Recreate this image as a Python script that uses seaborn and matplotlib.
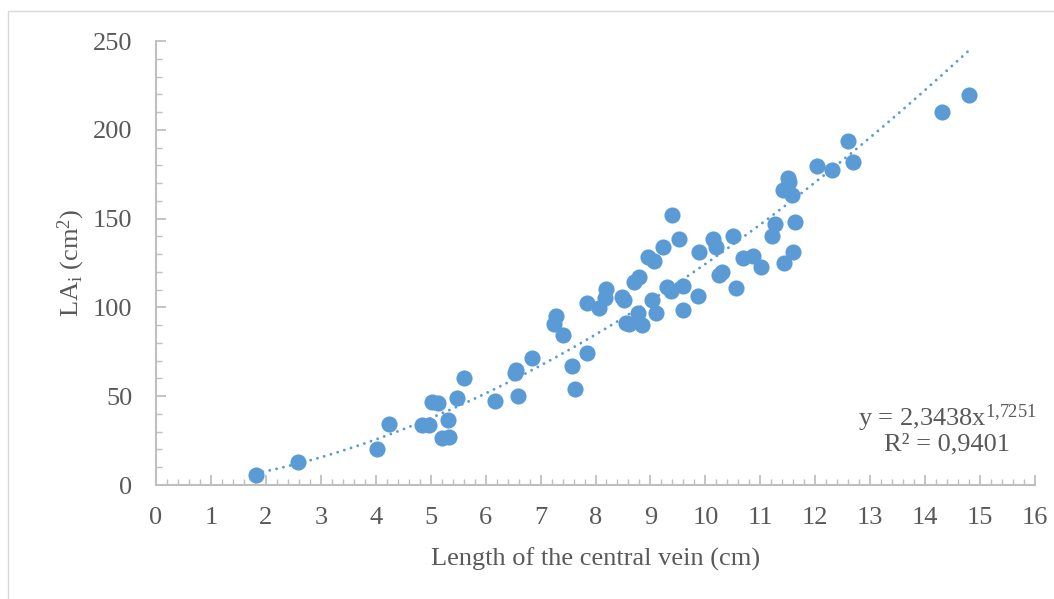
import numpy as np
import pandas as pd
import matplotlib
matplotlib.use("Agg")
import matplotlib.pyplot as plt
from matplotlib.ticker import MultipleLocator
from matplotlib.patches import Rectangle
from matplotlib.transforms import IdentityTransform
import seaborn as sns

# Leaf measurements: central vein length (cm) and leaf area (cm^2)
vein_length = [
    1.82, 2.59, 4.02, 4.25, 4.85, 4.97, 5.02, 5.14, 5.20, 5.33,
    5.31, 5.47, 5.61, 6.17, 6.53, 6.55, 6.59, 6.85, 7.24, 7.28,
    7.40, 7.57, 7.63, 7.85, 7.85, 8.07, 8.17, 8.19, 8.48, 8.52,
    8.55, 8.61, 8.77, 8.84, 8.70, 8.80, 8.95, 9.06, 9.03, 9.10,
    9.31, 9.37, 9.40, 9.52, 9.23, 9.60, 9.60, 9.87, 9.88, 10.13,
    10.19, 10.25, 10.30, 10.50, 10.56, 10.69, 10.86, 11.02, 11.22, 11.27,
    11.44, 11.60, 11.64, 11.42, 11.51, 11.53, 11.57, 12.04, 12.30, 12.60,
    12.69, 14.31, 14.80,
]
leaf_area = [
    5.6, 12.8, 20.3, 34.3, 33.8, 33.8, 46.9, 46.0, 26.6, 27.2,
    36.6, 48.8, 60.1, 47.3, 63.1, 64.8, 50.1, 71.3, 90.7, 95.2,
    84.5, 67.0, 54.1, 74.5, 102.3, 99.8, 105.1, 110.4, 106.0, 104.2,
    91.0, 90.7, 97.0, 90.1, 114.5, 117.3, 128.1, 126.0, 104.2, 96.6,
    111.4, 109.0, 152.0, 138.5, 134.2, 111.8, 98.5, 106.4, 131.2, 138.3,
    133.8, 118.2, 119.7, 140.2, 110.8, 127.6, 128.9, 122.6, 140.4, 147.0,
    124.8, 131.0, 147.9, 166.1, 172.7, 170.8, 163.3, 179.6, 177.4, 193.7,
    182.0, 210.2, 219.6,
]

# Power-law fit y = a * x^b
fit_a = 2.3438
fit_b = 1.7251
fit_r2 = 0.9401

x_ticks = list(range(0, 17))
y_ticks = [0, 50, 100, 150, 200, 250]

blue = "#5B9BD5"
grey_text = "#595959"
axis_grey = "#BFBFBF"

sns.set_theme(style="white")
plt.rcParams["font.family"] = ["Liberation Serif", "DejaVu Serif"]
plt.rcParams["mathtext.fontset"] = "custom"
plt.rcParams["mathtext.rm"] = "Liberation Serif"
plt.rcParams["mathtext.it"] = "Liberation Serif:italic"

df = pd.DataFrame({"length": vein_length, "area": leaf_area})
xs = np.linspace(min(vein_length), max(vein_length), 300)
trend = pd.DataFrame({"length": xs, "area": fit_a * xs ** fit_b})

fig = plt.figure(figsize=(10.54, 5.99), dpi=100)
fig.patch.set_facecolor("white")
ax = fig.add_axes([156 / 1054, 1 - 485 / 599, (1035 - 156) / 1054, (485 - 41) / 599])

# Outer chart frame
fig.patches.append(Rectangle((8 / 1054, -0.05), 1.2, 1 - 11 / 599 + 0.05,
                             transform=fig.transFigure, fill=False,
                             edgecolor="#D9D9D9", linewidth=1.0))

sns.scatterplot(data=df, x="length", y="area", ax=ax, color=blue, s=135,
                edgecolor=blue, linewidth=0, zorder=3)
sns.lineplot(data=trend, x="length", y="area", ax=ax, color=blue,
             linewidth=2.1, zorder=2)
line = ax.lines[-1]
line.set_dashes((0.01, 2.4))
line.set_dash_capstyle("round")

ax.set_xlim(0, 16)
ax.set_ylim(0, 250)
ax.set_xticks(x_ticks)
ax.set_yticks(y_ticks)
ax.xaxis.set_minor_locator(MultipleLocator(0.2))
ax.yaxis.set_minor_locator(MultipleLocator(10))
ax.tick_params(axis="both", which="major", direction="in", length=7, width=1.3,
               color=axis_grey, labelsize=19, labelcolor=grey_text)
ax.tick_params(axis="both", which="minor", direction="in", length=4, width=1.0,
               color=axis_grey)
ax.tick_params(axis="x", which="major", pad=16)
ax.tick_params(axis="y", which="major", pad=17)
ax.tick_params(bottom=True, left=True, which="both")

for side in ["top", "right"]:
    ax.spines[side].set_visible(False)
for side in ["left", "bottom"]:
    ax.spines[side].set_color(axis_grey)
    ax.spines[side].set_linewidth(1.5)

ax.set_xlabel("Length of the central vein (cm)", fontsize=19, color=grey_text, labelpad=13)
ax.set_ylabel(r"LA$_\mathregular{i}$ (cm$^\mathregular{2}$)", fontsize=19,
              color=grey_text, labelpad=4)

# Equation and goodness of fit, placed in figure pixel space
eq_text = (r"y = 2,3438x$^{\mathregular{1{,}7251}}$" + "\n" +
           f"R² = {fit_r2:.4f}".replace(".", ","))
ax.text(947, 599 - 429, eq_text, transform=IdentityTransform(), fontsize=19,
        color=grey_text, ha="center", va="center", linespacing=1.0)

fig.savefig("out.png", dpi=100, facecolor="white")
